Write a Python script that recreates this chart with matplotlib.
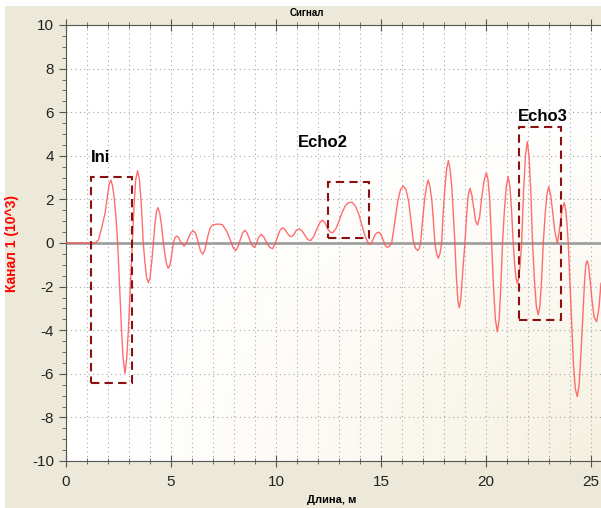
import numpy as np
import matplotlib.pyplot as plt
from matplotlib.patches import Rectangle
from matplotlib.ticker import MultipleLocator

plt.rcParams['font.family'] = ['Liberation Sans', 'DejaVu Sans']
plt.rcParams['axes.unicode_minus'] = False

# signal: length (m) and channel 1 (10^3)
length = [0, 1.38, 1.55, 1.70, 1.86, 1.98, 2.06, 2.14, 2.21, 2.28,
          2.37, 2.46, 2.56, 2.64, 2.72, 2.81, 2.89, 2.97, 3.06, 3.16,
          3.24, 3.32, 3.41, 3.50, 3.59, 3.68, 3.76, 3.84, 3.92, 4.00,
          4.08, 4.16, 4.23, 4.30, 4.37, 4.46, 4.55, 4.64, 4.72, 4.80,
          4.87, 4.95, 5.03, 5.11, 5.20, 5.29, 5.38, 5.45, 5.62, 5.72,
          5.84, 5.95, 6.06, 6.17, 6.28, 6.40, 6.51, 6.62, 6.75, 6.87,
          7.0, 7.25, 7.45, 7.65, 7.8, 7.95, 8.08, 8.20, 8.30, 8.42,
          8.52, 8.63, 8.75, 8.87, 8.97, 9.06, 9.15, 9.29, 9.42, 9.56,
          9.70, 9.84, 9.96, 10.08, 10.20, 10.32, 10.44, 10.54, 10.65, 10.75,
          10.85, 10.97, 11.11, 11.25, 11.38, 11.52, 11.65, 11.80, 11.95, 12.10,
          12.22, 12.35, 12.46, 12.58, 12.70, 12.85, 13.0, 13.15, 13.30, 13.45,
          13.62, 13.78, 13.95, 14.1, 14.25, 14.38, 14.51, 14.62, 14.72, 14.82,
          14.92, 15.02, 15.12, 15.21, 15.30, 15.40, 15.51, 15.65, 15.80, 15.93,
          16.06, 16.19, 16.32, 16.43, 16.54, 16.65, 16.75, 16.82, 16.89, 16.97,
          17.08, 17.17, 17.25, 17.33, 17.42, 17.50, 17.57, 17.65, 17.73, 17.81,
          17.89, 17.96, 18.05, 18.13, 18.21, 18.29, 18.37, 18.45, 18.52, 18.59,
          18.66, 18.73, 18.80, 18.88, 19.0, 19.08, 19.16, 19.24, 19.33, 19.42,
          19.51, 19.60, 19.70, 19.80, 19.92, 20.02, 20.10, 20.18, 20.27, 20.36,
          20.45, 20.54, 20.63, 20.71, 20.79, 20.88, 20.97, 21.06, 21.14, 21.22,
          21.30, 21.37, 21.43, 21.49, 21.56, 21.63, 21.70, 21.79, 21.88, 21.97,
          22.05, 22.14, 22.22, 22.31, 22.40, 22.49, 22.57, 22.65, 22.73, 22.82,
          22.90, 22.99, 23.08, 23.17, 23.27, 23.40, 23.50, 23.62, 23.73, 23.80,
          23.86, 23.92, 24.0, 24.08, 24.17, 24.26, 24.35, 24.44, 24.53, 24.62,
          24.70, 24.76, 24.82, 24.88, 24.96, 25.05, 25.15, 25.27, 25.38, 25.48]
signal = [0, 0, 0.15, 0.7, 1.36, 2.2, 2.7, 2.89, 2.65, 2.2,
          1.3, 0, -2.2, -3.9, -5.3, -5.98, -5.3, -4.0, -2.1, 0,
          1.7, 2.9, 3.32, 2.9, 1.7, 0, -0.9, -1.6, -1.82, -1.6,
          -0.9, 0, 0.8, 1.4, 1.62, 1.4, 0.8, 0, -0.58, -1.0,
          -1.16, -1.0, -0.58, 0, 0.26, 0.32, 0.22, 0.05, -0.14, -0.05,
          0.25, 0.48, 0.56, 0.45, 0.1, -0.35, -0.52, -0.3, 0.3, 0.7,
          0.84, 0.87, 0.84, 0.55, 0.2, -0.2, -0.35, -0.15, 0.15, 0.48,
          0.58, 0.45, 0.15, -0.12, -0.20, -0.05, 0.22, 0.40, 0.28, 0.0,
          -0.2, -0.26, -0.05, 0.3, 0.6, 0.70, 0.6, 0.45, 0.32, 0.29,
          0.38, 0.58, 0.65, 0.55, 0.35, 0.15, 0.11, 0.3, 0.65, 0.95,
          1.05, 0.9, 0.65, 0.5, 0.47, 0.65, 1.0, 1.4, 1.7, 1.85,
          1.87, 1.7, 1.3, 0.8, 0.3, 0.02, -0.06, 0.15, 0.38, 0.48,
          0.49, 0.35, 0.1, -0.12, -0.20, -0.15, 0, 0.9, 1.9, 2.45,
          2.61, 2.45, 1.9, 1.0, 0.1, -0.25, -0.35, -0.25, 0, 0.9,
          2.0, 2.6, 2.89, 2.6, 2.0, 1.0, 0, -0.5, -0.70, -0.5,
          0, 1.3, 2.6, 3.4, 3.78, 3.4, 2.6, 1.3, 0, -1.5,
          -2.6, -2.97, -2.6, -1.5, 0, 1.3, 2.2, 2.51, 2.2, 1.6,
          1.0, 0.83, 1.2, 2.1, 2.9, 3.22, 2.9, 2.0, 0, -2.0,
          -3.5, -4.07, -3.5, -2.0, 0, 1.5, 2.6, 3.04, 2.6, 1.5,
          0, -1.0, -1.6, -1.85, -1.6, -1.0, 0, 2.3, 4.0, 4.65,
          4.0, 2.3, 0, -1.7, -2.9, -3.30, -2.9, -1.7, 0, 1.3,
          2.2, 2.58, 2.2, 1.5, 0.6, -0.02, 0.6, 1.5, 1.85, 1.5,
          0.9, 0, -1.8, -3.7, -5.6, -6.7, -7.05, -6.5, -5.0, -3.2,
          -1.7, -1.0, -0.81, -1.0, -1.7, -2.6, -3.4, -3.61, -3.0, -1.85]

# echo windows: label, left, right, bottom, top
win_labels = ['Ini', 'Echo2', 'Echo3']
win_left = [1.19, 12.46, 21.59]
win_right = [3.14, 14.43, 23.56]
win_bottom = [-6.44, 0.24, -3.53]
win_top = [3.03, 2.78, 5.32]
label_x = [1.2, 11.05, 21.5]
label_y = [3.9, 4.6, 5.8]

fig = plt.figure(figsize=(6.01, 5.08), dpi=100)
fig.patch.set_facecolor('white')
fig.add_artist(Rectangle((5 / 601, 0), 1, 1 - 6 / 508, transform=fig.transFigure,
                         facecolor='#ece9d8', edgecolor='none', zorder=-10))

ax = fig.add_axes([66 / 601, 1 - 461 / 508, 1 - 66 / 601, (461 - 25) / 508])
ax.set_xlim(0, 25.48)
ax.set_ylim(-10, 10)

# soft cream glow in the bottom right corner
u, v = np.meshgrid(np.linspace(0, 1, 200), np.linspace(1, 0, 200))
d = np.sqrt((1 - u) ** 2 + (v * 1.1) ** 2)
t = np.clip(1 - d / 0.9, 0, 1) ** 1.3
c0 = np.array([1.0, 1.0, 1.0])
c1 = np.array([0.96, 0.94, 0.87])
img = c0 + (c1 - c0) * t[..., None]
ax.imshow(img, extent=[0, 1, 0, 1], transform=ax.transAxes, aspect='auto',
          origin='upper', zorder=0)

ax.xaxis.set_major_locator(MultipleLocator(5))
ax.xaxis.set_minor_locator(MultipleLocator(1))
ax.yaxis.set_major_locator(MultipleLocator(2))
ax.yaxis.set_minor_locator(MultipleLocator(0.5))
ax.grid(axis='x', which='both', color='#a8a8a8', linestyle=(0, (1, 3)), lw=0.8, zorder=1)
ax.grid(axis='y', which='major', color='#a8a8a8', linestyle=(0, (1, 3)), lw=0.8, zorder=1)

ax.axhline(0, color='#a0a0a0', lw=2, zorder=2)
ax.plot(length, signal, color='#ff5555', lw=1, alpha=0.85, zorder=3)

for lab, l, r, b, tp, lx, ly in zip(win_labels, win_left, win_right, win_bottom, win_top,
                                   label_x, label_y):
    ax.add_patch(Rectangle((l, b), r - l, tp - b, fill=False, edgecolor='#8b1010',
                           lw=1.5, linestyle=(0, (4, 2.5)), zorder=4))
    ax.text(lx, ly, lab, fontsize=12, fontweight='bold', color='black',
            ha='left', va='center', zorder=5)

for s in ['left', 'bottom', 'top']:
    ax.spines[s].set_color('#555555')
ax.spines['right'].set_visible(False)
ax.tick_params(axis='y', which='major', direction='out', length=5, color='#555555',
               labelsize=11, labelcolor='#222222')
ax.tick_params(axis='y', which='minor', direction='out', length=3, color='#555555')
ax.tick_params(axis='x', which='major', direction='inout', length=8, color='#555555',
               labelsize=11, labelcolor='#222222', top=True, pad=6)
ax.tick_params(axis='x', which='minor', direction='inout', length=5, color='#555555',
               top=True)

fig.text(332 / 601, 1 - 500 / 508, 'Длина, м', fontsize=8, fontweight='bold',
         ha='center', va='center')
fig.text(12 / 601, 1 - 243 / 508, 'Канал 1 (10^3)', fontsize=10, fontweight='bold',
         color='red', rotation=90, ha='center', va='center')
fig.text(0.51, 1 - 13 / 508, 'Сигнал', fontsize=7, fontweight='bold', ha='center', va='center')

fig.savefig('out.png', dpi=100)
